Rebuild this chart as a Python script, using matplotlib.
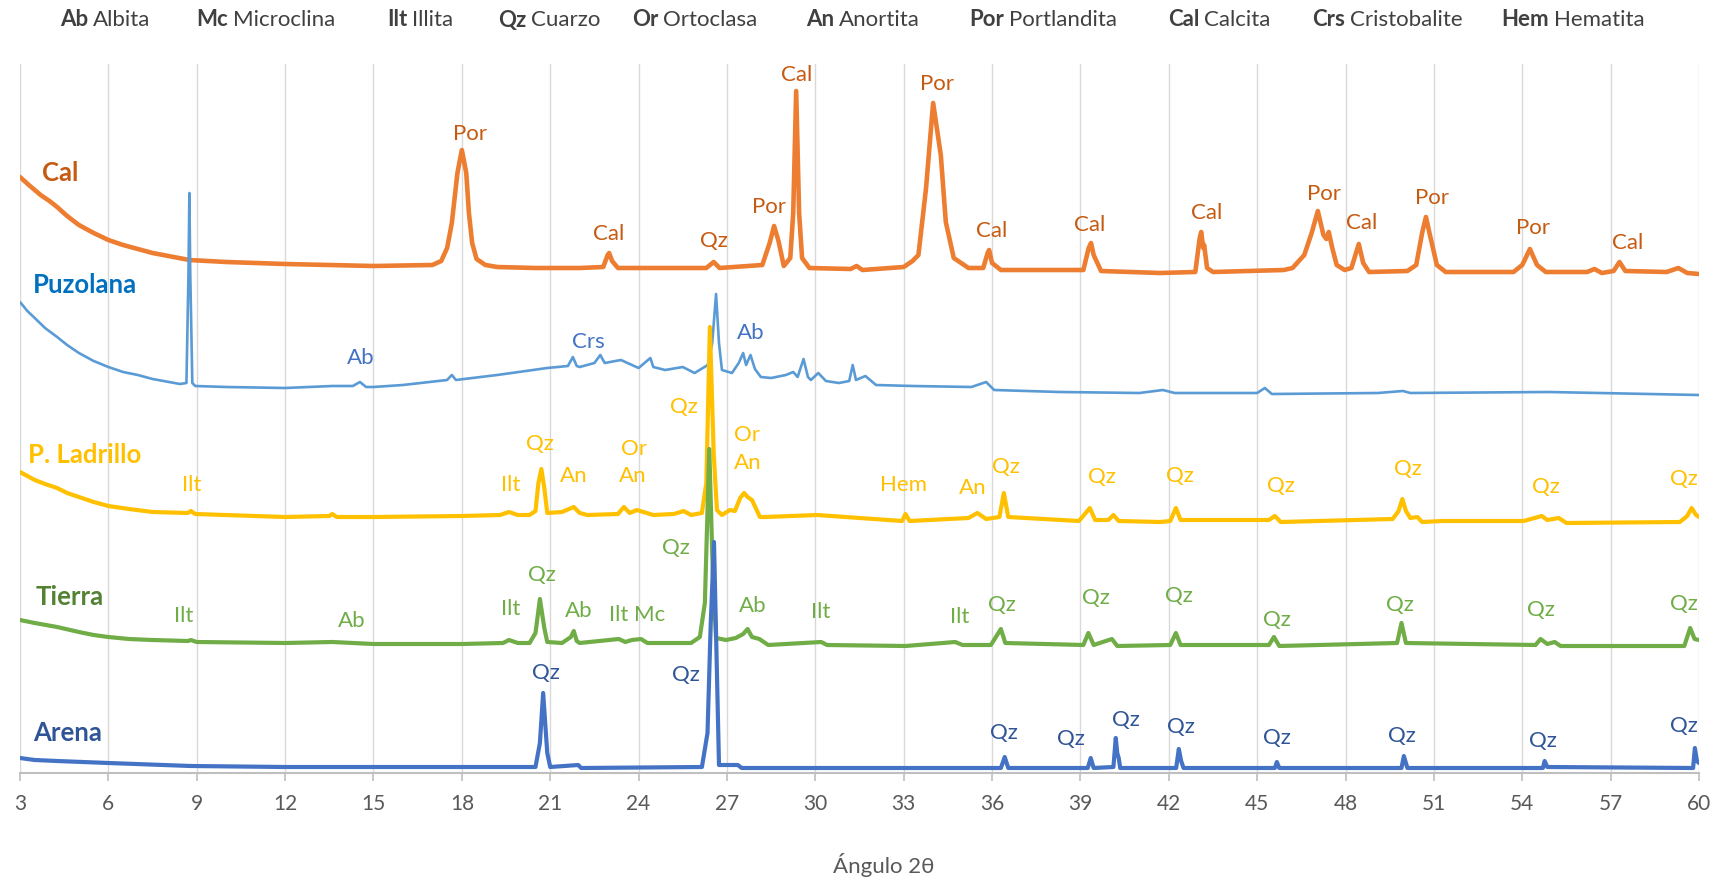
import matplotlib
matplotlib.use("Agg")
import matplotlib.pyplot as plt

plt.rcParams['font.family'] = ['Lato', 'DejaVu Sans']

# ---------------------------------------------------------------- data
# Diffractograms (2θ in degrees, stacked intensity in a.u.)
cal_2t = [3.0, 3.15, 3.3, 3.5, 3.7, 4.0, 4.26, 4.6, 5.0, 5.5, 6.0, 6.5, 7.0, 7.5, 8.75, 10.0,
          12.0, 15.0, 17.0, 17.3, 17.5,
          17.66, 17.85, 18.0, 18.15, 18.24, 18.35, 18.5, 18.8, 19.2, 20.5, 22.0, 22.8, 22.95,
          23.0, 23.1, 23.3, 26.3, 26.55, 26.75, 28.2, 28.45, 28.6, 28.75, 28.93, 29.15, 29.25,
          29.35, 29.45, 29.55, 29.8, 31.2, 31.4, 31.6, 33.0, 33.3, 33.5, 33.76, 33.9, 34.0,
          34.1, 34.26, 34.43, 34.7, 35.2, 35.7, 35.85, 35.9, 36.0, 36.3, 39.1, 39.28, 39.36,
          39.45, 39.7, 41.7, 42.9, 43.05, 43.1, 43.17, 43.2, 43.3, 43.5, 45.9, 46.2, 46.6,
          46.85, 47.06, 47.25, 47.35, 47.43, 47.55, 47.7, 47.97, 48.2, 48.45, 48.6, 48.8, 50.1,
          50.4, 50.6, 50.73, 50.85, 51.1, 51.4, 53.7, 54.0, 54.26, 54.5, 54.8, 56.2, 56.45,
          56.7, 57.1, 57.3, 57.5, 58.9, 59.3, 59.6, 60.0]
cal_int = [596, 592, 588, 583, 578, 572, 566, 557, 548, 540, 533, 528, 524, 520, 513, 511,
           509, 507, 508, 512, 525,
           550, 600, 623, 600, 560, 530, 514, 508, 506, 505, 505, 506, 518,
           520, 512, 505, 505, 511, 505, 508, 530, 547, 532, 507, 515, 560,
           682, 560, 515, 505, 504, 507, 503, 506, 512, 518, 585, 635, 670,
           650, 618, 551, 515, 505, 505, 520, 523, 510, 503, 503, 525, 530,
           518, 502, 500, 501, 535, 541, 525, 528, 505, 501, 503, 505, 518,
           540, 562, 538, 534, 541, 525, 508, 503, 505, 529, 510, 501, 502,
           508, 540, 556, 540, 508, 501, 501, 508, 524, 508, 501, 501, 504,
           500, 502, 511, 502, 501, 505, 500, 499]

puz_2t = [3.0, 3.25, 3.5, 3.85, 4.26, 4.6, 5.0, 5.5, 6.0, 6.5, 7.0, 7.5, 8.43, 8.65, 8.72,
          8.75, 8.78, 8.85, 8.95, 10.0,
          12.0, 13.6, 14.3, 14.54, 14.75, 15.0, 16.0, 17.5, 17.66, 17.8, 19.2, 20.9, 21.6,
          21.77, 21.9, 22.0, 22.5, 22.7, 22.85, 23.4, 24.0, 24.4, 24.5, 24.9, 25.5, 25.9,
          26.35, 26.5, 26.63, 26.73, 26.83, 27.17, 27.4, 27.55, 27.65, 27.8, 27.95, 28.15,
          28.5, 29.0, 29.25, 29.4, 29.6, 29.75, 29.85, 30.1, 30.36, 30.8, 31.15, 31.27, 31.38,
          31.7, 32.06, 33.3, 35.3, 35.8, 36.07, 38.3, 41.0, 41.8, 42.2, 45.0, 45.26, 45.5,
          49.1, 49.95, 50.2, 54.9, 60.0]
puz_int = [471, 462, 455, 445, 436, 428, 420, 412, 406, 401, 398, 394, 389, 390, 500,
           580, 500, 390, 387, 386,
           385, 387, 387, 391, 386, 386, 388, 393, 398, 393, 398, 405, 407,
           416, 407, 406, 410, 418, 410, 413, 405, 415, 406, 403, 406, 400,
           408, 430, 479, 430, 403, 400, 410, 420, 408, 418, 404, 396,
           395, 398, 401, 396, 414, 396, 393, 400, 392, 390, 392, 408, 393,
           397, 388, 387, 386, 391, 383, 381, 380, 383, 380, 380, 385, 379,
           380, 382, 380, 381, 378]

lad_2t = [3.0, 3.25, 3.5, 3.85, 4.26, 4.6, 5.0, 5.5, 6.0, 6.7, 7.5, 8.7, 8.8, 8.95, 12.0,
          13.5, 13.6, 13.75, 15.0, 18.0,
          19.3, 19.6, 19.9, 20.3, 20.5, 20.6, 20.7, 20.8, 20.9, 21.4, 21.8, 22.0, 22.26,
          23.3, 23.5, 23.7, 23.94, 24.5, 25.2, 25.53, 25.78, 26.15, 26.3, 26.42, 26.55,
          26.66, 26.83, 27.1, 27.27, 27.45, 27.58, 27.7, 27.85, 28.12, 28.3, 30.06, 32.95,
          33.06, 33.2, 35.2, 35.5, 35.8, 36.25, 36.4, 36.55, 38.95, 39.32, 39.5, 39.95,
          40.12, 40.3, 41.7, 42.05, 42.24, 42.4, 45.4, 45.6, 45.8, 49.6, 49.8, 49.93, 50.05,
          50.2, 50.44, 50.6, 51.3, 54.05, 54.66, 54.85, 55.24, 55.5, 59.35, 59.6, 59.75,
          59.9, 60.0]
lad_int = [301, 297, 293, 289, 285, 280, 276, 271, 267, 264, 261, 260, 262, 259, 256,
           257, 259, 256, 256, 257,
           258, 261, 258, 258, 262, 290, 304, 285, 260, 261, 266, 260, 258,
           259, 266, 260, 263, 258, 259, 262, 258, 260, 290, 446, 320,
           263, 258, 263, 262, 275, 280, 276, 273, 256, 256, 258, 252,
           259, 252, 255, 260, 254, 256, 280, 256, 252, 265, 253, 253,
           258, 252, 251, 252, 265, 253, 253, 257, 251, 254, 262, 274, 262,
           255, 256, 251, 252, 252, 257, 253, 255, 250, 251, 257, 265,
           258, 256]

tie_2t = [3.0, 3.5, 4.26, 5.0, 5.5, 6.0, 6.7, 7.5, 8.7, 8.8, 9.0, 12.0, 13.6, 15.0, 18.0,
          19.4, 19.6,
          19.9, 20.3, 20.5, 20.65, 20.8, 20.9, 21.4, 21.7, 21.8, 21.9, 22.0, 23.33, 23.55,
          23.77, 24.08, 24.3, 25.78, 26.08, 26.25, 26.4, 26.52, 26.63, 26.97, 27.3, 27.55,
          27.7, 27.85, 28.1, 28.4, 30.2, 30.4, 33.06, 34.75, 35.0, 35.96, 36.3, 36.45, 39.1,
          39.27, 39.45, 40.07, 40.25, 42.05, 42.24, 42.4, 45.4, 45.57, 45.75, 49.75, 49.9,
          50.05, 54.45, 54.62, 54.85, 55.1, 55.3, 59.5, 59.7, 59.85, 60.0]
tie_int = [153, 150, 146, 141, 138, 136, 134, 133, 132, 133, 131, 130, 131, 129, 129,
           130, 133,
           130, 130, 140, 174, 145, 131, 130, 136, 142, 132, 130, 134, 131,
           133, 134, 130, 130, 136, 170, 324, 200, 135, 133, 135, 139,
           144, 136, 134, 128, 131, 128, 127, 131, 128, 128, 144, 130, 128,
           140, 128, 134, 127, 128, 140, 128, 128, 136, 127, 130, 150,
           130, 128, 134, 129, 131, 127, 127, 145, 134, 133]

are_2t = [3.0, 3.5, 4.26, 6.0, 8.8, 12.0, 20.5, 20.65, 20.76, 20.9, 21.0, 21.95, 22.05, 26.15,
          26.34, 26.45, 26.56, 26.66, 26.73, 27.37, 27.5, 36.3, 36.43, 36.55, 39.25, 39.35,
          39.45, 40.12, 40.2, 40.25, 40.3, 40.35, 42.25, 42.34, 42.42, 42.5, 45.6, 45.67,
          45.75, 49.9, 49.98, 50.1, 54.7, 54.76, 54.85, 59.8, 59.86, 59.93, 60.0]
are_int = [15, 13, 12, 10, 7, 6, 6, 30, 80, 20, 6, 8, 5, 6,
           40, 150, 231, 100, 8, 8, 5, 5, 16, 5, 5, 15,
           5, 6, 35, 20, 15, 5, 5, 24, 12, 5, 5, 11,
           5, 5, 17, 5, 5, 12, 6, 5, 25, 12, 10]

series_names = ['Cal', 'Puzolana', 'P. Ladrillo', 'Tierra', 'Arena']
line_colors = ['#ED7D31', '#5B9BD5', '#FFC000', '#70AD47', '#4472C4']
name_colors = ['#C55A11', '#0070C0', '#FFC000', '#548235', '#2F5597']
peak_colors = ['#C55A11', '#4472C4', '#FFC000', '#70AD47', '#2F5597']
line_widths = [3.3, 1.9, 3.0, 3.0, 3.0]

# phase labels: (text, 2θ, height) for each pattern
cal_peaks = [('Por', 18.27, 639), ('Cal', 23.0, 539), ('Qz', 26.55, 532), ('Por', 28.42, 566),
             ('Cal', 29.35, 698), ('Por', 34.13, 689), ('Cal', 36.0, 542), ('Cal', 39.32, 548),
             ('Cal', 43.28, 560), ('Por', 47.27, 579), ('Cal', 48.54, 550), ('Por', 50.93, 575),
             ('Por', 54.36, 545), ('Cal', 57.57, 530)]
puz_peaks = [('Ab', 14.57, 415), ('Crs', 22.30, 431), ('Ab', 27.82, 440)]
lad_peaks = [('Ilt', 8.82, 288), ('Ilt', 19.65, 288), ('Qz', 20.66, 329), ('An', 21.81, 297),
             ('Or', 23.83, 324), ('An', 23.79, 297), ('Qz', 25.55, 366), ('Or', 27.67, 338),
             ('An', 27.71, 310), ('Hem', 33.01, 288), ('An', 35.33, 285), ('Qz', 36.48, 306),
             ('Qz', 39.73, 296), ('Qz', 42.38, 297), ('Qz', 45.81, 287), ('Qz', 50.11, 304),
             ('Qz', 54.81, 286), ('Qz', 59.48, 294)]
tie_peaks = [('Ilt', 8.56, 157), ('Ab', 14.27, 152), ('Ilt', 19.65, 164), ('Qz', 20.73, 198),
             ('Ab', 21.96, 162), ('Ilt', 23.31, 158), ('Mc', 24.39, 158), ('Qz', 25.28, 225),
             ('Ab', 27.86, 167), ('Ilt', 30.17, 161), ('Ilt', 34.91, 156), ('Qz', 36.33, 168),
             ('Qz', 39.54, 175), ('Qz', 42.34, 177), ('Qz', 45.67, 153), ('Qz', 49.85, 168),
             ('Qz', 54.62, 163), ('Qz', 59.48, 169)]
are_peaks = [('Qz', 20.85, 100), ('Qz', 25.62, 98), ('Qz', 36.41, 40), ('Qz', 38.68, 34),
             ('Qz', 40.55, 53), ('Qz', 42.42, 46), ('Qz', 45.67, 35), ('Qz', 49.92, 37),
             ('Qz', 54.70, 32), ('Qz', 59.48, 47)]

# series name positions (2θ, height) – left aligned
name_pos = [(3.75, 600), (3.45, 488), (3.26, 318), (3.52, 176), (3.45, 40)]

legend_abbr = ['Ab', 'Mc', 'Ilt', 'Qz', 'Or', 'An', 'Por', 'Cal', 'Crs', 'Hem']
legend_names = ['Albita', 'Microclina', 'Illita', 'Cuarzo', 'Ortoclasa', 'Anortita',
                'Portlandita', 'Calcita', 'Cristobalite', 'Hematita']
legend_x = [60, 196, 387, 498, 632, 806, 969, 1168, 1312, 1501]

x_ticks = list(range(3, 61, 3))

# ---------------------------------------------------------------- figure
W, H = 1724, 882
fig = plt.figure(figsize=(W / 100, H / 100), dpi=100)
ax = fig.add_axes([20 / W, (H - 773) / H, (1699 - 20) / W, (773 - 64) / H])

xs = [cal_2t, puz_2t, lad_2t, tie_2t, are_2t]
ys = [cal_int, puz_int, lad_int, tie_int, are_int]
for x, y, c, lw in zip(xs, ys, line_colors, line_widths):
    ax.plot(x, y, color=c, lw=lw, solid_joinstyle='round', solid_capstyle='round', zorder=3)

peak_sets = [cal_peaks, puz_peaks, lad_peaks, tie_peaks, are_peaks]
for peaks, c in zip(peak_sets, peak_colors):
    for txt, px, py in peaks:
        ax.text(px, py, txt, color=c, fontsize=16, ha='center', va='center', zorder=5)

for name, (nx, ny), c in zip(series_names, name_pos, name_colors):
    ax.text(nx, ny, name, color=c, fontsize=18.5, fontweight='bold', ha='left', va='center',
            zorder=5)

ax.set_xlim(3, 60)
ax.set_ylim(0, 709)
ax.set_xticks(x_ticks)
ax.set_yticks([])
ax.grid(axis='x', color='#D9D9D9', lw=1.0, zorder=0)
for s in ['left', 'right', 'top']:
    ax.spines[s].set_visible(False)
ax.spines['bottom'].set_color('#BFBFBF')
ax.spines['bottom'].set_linewidth(1.5)
ax.tick_params(axis='x', direction='out', length=6, width=1.2, color='#BFBFBF',
               labelcolor='#595959', labelsize=15, pad=9)

fig.text(884 / W, 1 - 865 / H, 'Ángulo 2θ', color='#595959', fontsize=16,
         ha='center', va='center')

fig.canvas.draw()
renderer = fig.canvas.get_renderer()
for abbr, name, x0 in zip(legend_abbr, legend_names, legend_x):
    t = fig.text(x0 / W, 1 - 20 / H, abbr, fontsize=16, fontweight='bold',
                 color='#404040', ha='left', va='center')
    bb = t.get_window_extent(renderer)
    fig.text((bb.x1 + 5) / W, 1 - 20 / H, name, fontsize=16, color='#404040',
             ha='left', va='center')

fig.savefig('out.png', dpi=100)
